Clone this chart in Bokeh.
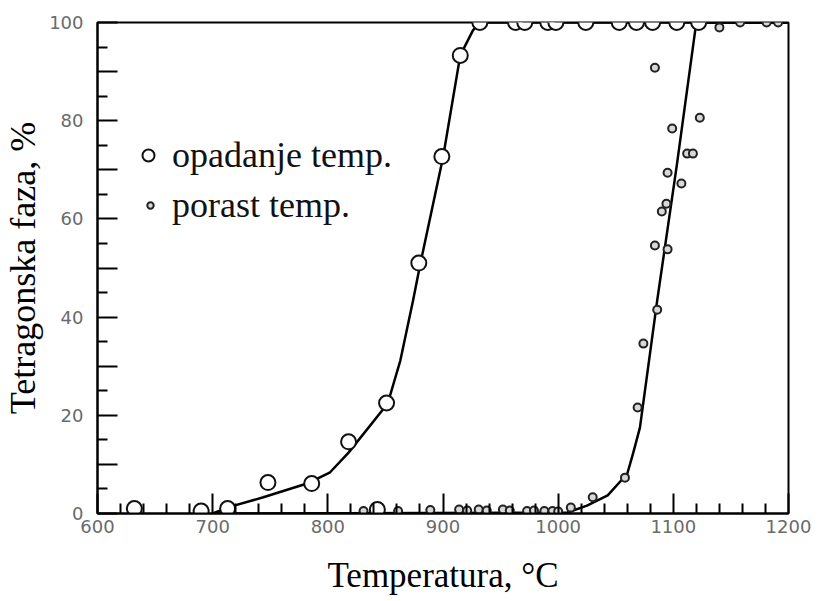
from bokeh.plotting import figure
from bokeh.models import FixedTicker, Legend, LegendItem, Range1d
from bokeh.embed import file_html
from bokeh.resources import INLINE

# ---- data ----
# cooling (opadanje temp.) measured points
cool_x = [632, 690, 713, 748, 786, 818, 851, 843, 879, 899, 915, 932, 963, 971, 991, 998,
          1024, 1053, 1068, 1082, 1103, 1122]
cool_y = [1.0, 0.5, 1.0, 6.3, 6.1, 14.6, 22.5, 0.8, 51.0, 72.7, 93.3, 100, 100, 100, 100, 100,
          100, 100, 100, 100, 100, 100]
# heating (porast temp.) measured points
heat_x = [831, 861, 889, 914, 921, 931, 938, 952, 958, 973, 979, 988, 995, 1000,
          1011, 1030, 1058, 1069, 1074, 1086, 1084, 1095, 1090, 1094, 1107, 1095,
          1112, 1117, 1099, 1123, 1084, 1140, 1158, 1181, 1191]
heat_y = [0.5, 0.5, 0.7, 0.8, 0.6, 0.8, 0.6, 0.8, 0.6, 0.5, 0.6, 0.5, 0.5, 0.4,
          1.2, 3.3, 7.3, 21.6, 34.6, 41.5, 54.6, 53.8, 61.5, 63.1, 67.2, 69.4,
          73.3, 73.3, 78.4, 80.6, 90.8, 99.0, 100, 100, 100]
# fitted curves
cool_curve_x = [700, 715.5, 744, 782, 802, 818, 852, 863, 874, 880, 900, 915, 926, 932, 1200]
cool_curve_y = [0.0, 1.4, 3.3, 6.1, 8.4, 12.4, 22.4, 31.2, 43.4, 50.5, 72.5, 93.3, 98.4, 100, 100]
heat_curve_x = [700, 1008, 1025, 1043, 1060, 1065, 1071, 1086, 1103, 1119, 1122, 1200]
heat_curve_y = [0.0, 0.2, 1.6, 3.7, 8.1, 12.2, 17.5, 43.4, 70.9, 98.4, 100, 100]

x_major = [600, 700, 800, 900, 1000, 1100, 1200]
x_minor = [v for v in range(620, 1200, 20) if v % 100 != 0]
y_major = [0, 10, 20, 30, 40, 50, 60, 70, 80, 90, 100]
y_minor = [5, 15, 25, 35, 45, 55, 65, 75, 85, 95]
y_labels = {0: "0", 10: "", 20: "20", 30: "", 40: "40", 50: "", 60: "60", 70: "", 80: "80", 90: "", 100: "100"}

legend_labels = ["opadanje temp.", "porast temp."]

p = figure(width=813, height=600, output_backend="svg", toolbar_location=None,
           x_range=Range1d(600, 1200), y_range=Range1d(0, 100),
           min_border_left=97, min_border_right=25, min_border_top=22, min_border_bottom=87)
p.grid.visible = False
p.outline_line_color = "black"
p.outline_line_width = 2

serif = "Liberation Serif"

for ax in (p.xaxis[0], p.yaxis[0]):
    ax.axis_line_width = 2
    ax.major_tick_line_width = 2
    ax.minor_tick_line_width = 2
    ax.major_tick_in = 20
    ax.major_tick_out = 0
    ax.minor_tick_in = 10
    ax.minor_tick_out = 0
    ax.major_label_text_font = "DejaVu Sans"
    ax.major_label_text_font_size = "18px"
    ax.major_label_text_color = "#6a6a6a"
    ax.axis_label_text_font = serif
    ax.axis_label_text_font_style = "normal"
    ax.axis_label_text_color = "black"

p.xaxis.ticker = FixedTicker(ticks=x_major, minor_ticks=x_minor)
p.yaxis.ticker = FixedTicker(ticks=y_major, minor_ticks=y_minor)
p.yaxis.major_label_overrides = y_labels
p.xaxis.major_label_standoff = 6
p.yaxis.major_label_standoff = 14
p.xaxis.axis_label = "Temperatura, °C"
p.yaxis.axis_label = "Tetragonska faza, %"
p.xaxis.axis_label_text_font_size = "35px"
p.yaxis.axis_label_text_font_size = "36px"
p.xaxis.axis_label_standoff = 20
p.yaxis.axis_label_standoff = 3

p.line(cool_curve_x, cool_curve_y, line_color="black", line_width=2.5, line_join="round")
p.line(heat_curve_x, heat_curve_y, line_color="black", line_width=2.5, line_join="round")

r_cool = p.scatter(cool_x, cool_y, marker="circle", size=15, fill_color="white",
                   line_color="#111111", line_width=2)
r_heat = p.scatter(heat_x, heat_y, marker="circle", size=8, fill_color="#d8d8d8",
                   line_color="#222222", line_width=2)

def mk_legend(label, renderer, gw, lh, standoff, loc):
    lg = Legend(items=[LegendItem(label=label, renderers=[renderer])],
                location=loc, glyph_width=gw, glyph_height=40, label_height=lh,
                label_standoff=standoff, margin=0, padding=0,
                border_line_color=None, background_fill_alpha=0,
                label_text_font=serif, label_text_font_size="36px",
                label_text_baseline="alphabetic",
                label_text_color="#111111")
    p.add_layout(lg, "center")

mk_legend(legend_labels[0], r_cool, 30, 46, 9, (36, 335))
mk_legend(legend_labels[1], r_heat, 16, 52, 14, (45, 282))

open("out.html", "w").write(file_html(p, INLINE))
